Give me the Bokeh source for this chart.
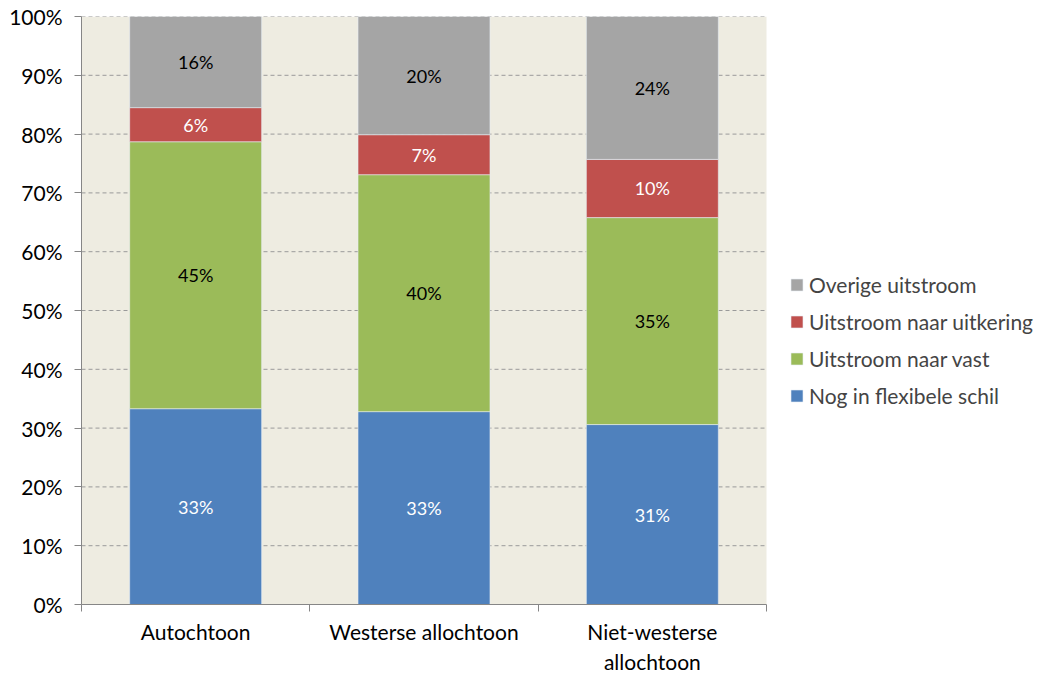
from bokeh.plotting import figure
from bokeh.models import (ColumnDataSource, FixedTicker, PrintfTickFormatter,
                          Legend, LegendItem, Range1d)
from bokeh.core.properties import value
from bokeh.embed import file_html
from bokeh.resources import INLINE

categories = ["Autochtoon", "Westerse allochtoon", "Niet-westerse\nallochtoon"]
series_names = ["Nog in flexibele schil", "Uitstroom naar vast",
                "Uitstroom naar uitkering", "Overige uitstroom"]
nog_flex = [33.3, 32.8, 30.6]
naar_vast = [45.4, 40.3, 35.2]
naar_uitkering = [5.8, 6.8, 9.9]
overige = [15.5, 20.1, 24.3]
y_ticks = [0, 10, 20, 30, 40, 50, 60, 70, 80, 90, 100]

colors = ["#4F81BD", "#9BBB59", "#C0504D", "#A5A5A5"]
label_colors = ["white", "black", "white", "black"]
FONT = "Lato"

n = len(categories)
W, H = 1036, 676
LEFT, TOP, BOTTOM = 81, 16, 72
frame_w = W - LEFT
cat_px = 685 / n                     # pixel width of one category slot
x_end = frame_w / cat_px

p = figure(width=W, height=H, output_backend="svg", toolbar_location=None,
           x_range=Range1d(0, x_end), y_range=Range1d(0, 100),
           min_border_left=LEFT, min_border_top=TOP, min_border_bottom=BOTTOM,
           min_border_right=0)
p.outline_line_color = None
p.background_fill_color = "white"
p.border_fill_color = "white"

# plot-area background, only behind the categories
p.quad(left=[0], right=[n], bottom=[0], top=[100], fill_color="#EEECE1",
       line_color=None)

# dashed horizontal grid lines over the plot area
p.segment(x0=[0] * len(y_ticks), x1=[n] * len(y_ticks), y0=y_ticks, y1=y_ticks,
          line_color="#9A9A9A", line_dash="4 3", line_width=1)

series = [nog_flex, naar_vast, naar_uitkering, overige]
xs = [i + 0.5 for i in range(n)]
bottoms = [0.0] * n
renderers = []
for name, vals, col, lcol in zip(series_names, series, colors, label_colors):
    tops = [b + v for b, v in zip(bottoms, vals)]
    mids = [(b + t) / 2 for b, t in zip(bottoms, tops)]
    src = ColumnDataSource(dict(x=xs, bottom=bottoms, top=tops, mid=mids,
                                lab=[f"{int(v + 0.5)}%" for v in vals]))
    r = p.vbar(x="x", bottom="bottom", top="top", width=0.578, source=src,
               fill_color=col, line_color="#E8EEF5", line_width=0.6)
    p.text(x="x", y="mid", text="lab", source=src, text_align="center",
           text_baseline="middle", text_color=lcol, text_font=value(FONT),
           text_font_size="18px")
    renderers.append((name, r))
    bottoms = tops

p.xgrid.grid_line_color = None
p.ygrid.grid_line_color = None

# y axis
p.yaxis.ticker = FixedTicker(ticks=y_ticks)
p.yaxis.formatter = PrintfTickFormatter(format="%d%%")
p.yaxis.axis_line_color = "#868686"
p.yaxis.major_tick_line_color = "#868686"
p.yaxis.major_tick_out = 7
p.yaxis.major_tick_in = 0
p.yaxis.minor_tick_line_color = None
p.yaxis.major_label_standoff = 12
p.yaxis.major_label_text_font = FONT
p.yaxis.major_label_text_font_size = "21px"
p.yaxis.major_label_text_color = "black"

# x axis
p.xaxis.ticker = FixedTicker(ticks=xs, minor_ticks=list(range(n + 1)))
p.xaxis.major_label_overrides = {x: c for x, c in zip(xs, categories)}
p.xaxis.bounds = (0, n)
p.xaxis.axis_line_color = "#868686"
p.xaxis.major_tick_line_color = None
p.xaxis.minor_tick_line_color = "#868686"
p.xaxis.minor_tick_out = 7
p.xaxis.minor_tick_in = 0
p.xaxis.major_label_standoff = 7
p.xaxis.major_label_text_font = FONT
p.xaxis.major_label_text_font_size = "21px"
p.xaxis.major_label_text_color = "black"

items = [LegendItem(label=nm, renderers=[r]) for nm, r in reversed(renderers)]
legend = Legend(items=items, location=(708, 196), border_line_color=None,
                background_fill_alpha=0, label_text_font=FONT,
                label_text_font_size="21px", glyph_width=15, glyph_height=15,
                label_standoff=5, spacing=12, padding=6)
p.add_layout(legend, "center")

open("out.html", "w").write(file_html(p, INLINE))
